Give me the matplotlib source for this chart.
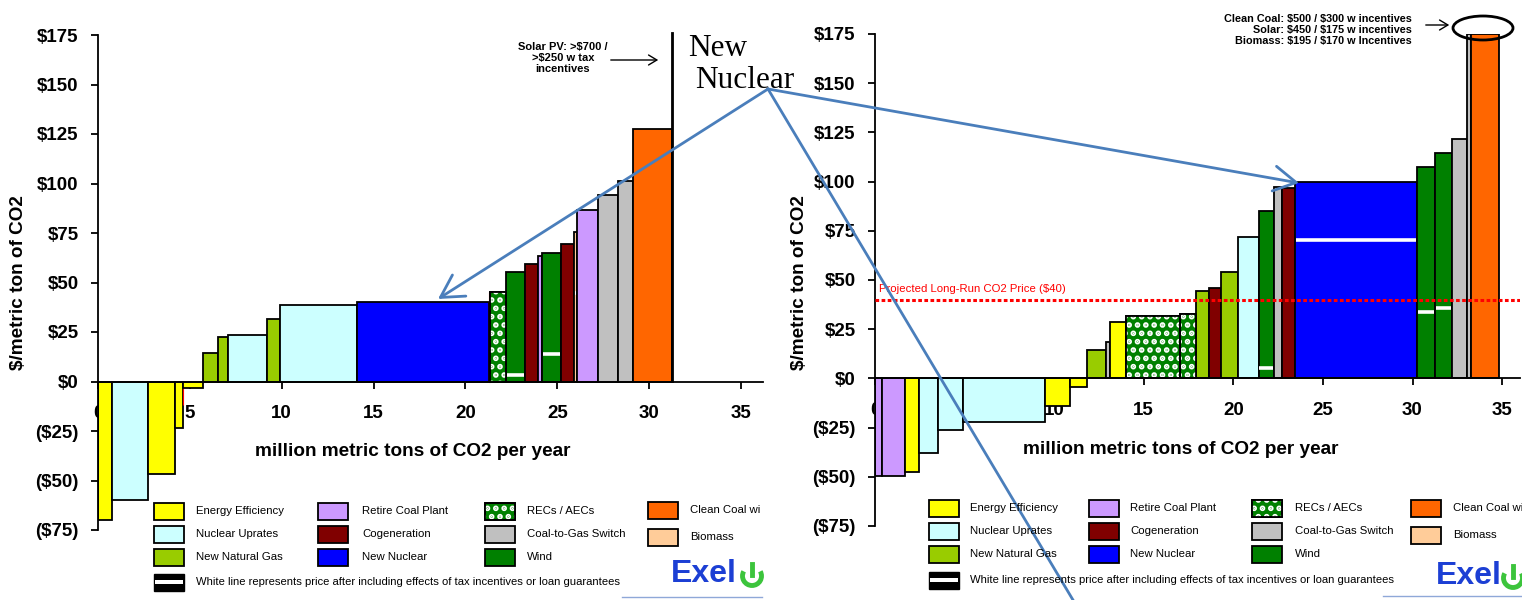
import matplotlib
matplotlib.use('Agg')
import matplotlib.pyplot as plt
from matplotlib.patches import Rectangle, Ellipse, FancyArrowPatch, Arc
from matplotlib.lines import Line2D
from matplotlib.ticker import FuncFormatter
import numpy as np

plt.rcParams['font.family'] = ['Liberation Sans', 'DejaVu Sans']
plt.rcParams['hatch.linewidth'] = 2.8
plt.rcParams['text.parse_math'] = False

W, H = 1522, 600

# ---------------- data ----------------
category_colors = {
    'EE': '#FFFF00', 'NU': '#CCFFFF', 'NNG': '#99CC00', 'RCP': '#CC99FF',
    'COGEN': '#800000', 'NN': '#0000FF', 'REC': '#008000', 'C2G': '#C0C0C0',
    'WIND': '#008000', 'CC': '#FF6600', 'BIO': '#FFCC99', 'RED': '#FF0000',
    'SOLAR': 'none',
}

legend_keys = ['EE', 'NU', 'NNG', 'RCP', 'COGEN', 'NN', 'REC', 'C2G', 'WIND', 'CC', 'BIO']
legend_labels = ['Energy Efficiency', 'Nuclear Uprates', 'New Natural Gas',
                 'Retire Coal Plant', 'Cogeneration', 'New Nuclear',
                 'RECs / AECs', 'Coal-to-Gas Switch', 'Wind',
                 'Clean Coal wi', 'Biomass']
white_line_label = 'White line represents price after including effects of tax incentives or loan guarantees'

left_types = ['EE', 'NU', 'EE', 'EE', 'RED', 'EE', 'NNG', 'NNG', 'NU', 'NNG', 'NU', 'NN',
              'RED', 'REC', 'WIND', 'COGEN', 'RCP', 'WIND', 'COGEN', 'BIO', 'RCP',
              'C2G', 'C2G', 'CC', 'SOLAR']
left_widths = [0.74, 1.99, 1.47, 0.40, 0.05, 1.08, 0.82, 0.51, 2.16, 0.70, 4.16, 7.22,
               0.06, 0.84, 1.05, 0.72, 0.22, 1.00, 0.72, 0.18, 1.14, 1.05, 0.82, 2.16, 0.04]
left_costs = [-70, -60, -46.5, -23.4, -12, -3.2, 14.3, 22.4, 23.7, 31.8, 38.7, 40.4,
              45, 45, 55.2, 59.4, 63.6, 64.8, 69.5, 75.4, 86.7, 94.3, 101.5, 127.6, 176]
left_incentive = [np.nan] * 14 + [3.5, np.nan, np.nan, 14, np.nan, 44.6] + [np.nan] * 5

right_types = ['RCP', 'RCP', 'EE', 'NU', 'NU', 'NU', 'EE', 'EE', 'NNG', 'C2G', 'EE',
               'REC', 'REC', 'NNG', 'COGEN', 'NNG', 'NU', 'WIND', 'C2G', 'COGEN', 'NN',
               'WIND', 'WIND', 'C2G', 'C2G', 'CC']
right_widths = [0.37, 1.30, 0.80, 1.06, 1.36, 4.62, 1.39, 0.93, 1.04, 0.22, 0.93, 2.98,
                0.92, 0.74, 0.65, 0.93, 1.17, 0.87, 0.41, 0.75, 6.81, 1.00, 0.93, 0.84,
                0.22, 1.58]
right_costs = [-49.6, -49.6, -47.4, -38.1, -26.4, -22.1, -14.2, -4.4, 14.4, 18.3, 28.9,
               31.7, 32.9, 44.3, 45.7, 53.9, 71.8, 85.3, 97.2, 96.6, 99.6, 107.5, 114.7,
               121.5, 175, 175]
right_incentive = [np.nan] * 17 + [5.2, np.nan, np.nan, 70.5, 33.7, 36.0] + [np.nan] * 3

projected_price = 40
projected_label = 'Projected Long-Run CO2 Price ($40)'
x_ticks = [0, 5, 10, 15, 20, 25, 30, 35]
y_ticks = [-75, -50, -25, 0, 25, 50, 75, 100, 125, 150, 175]
x_label = 'million metric tons of CO2 per year'
y_label = '$/metric ton of CO2'
solar_note = 'Solar PV: >$700 /\n>$250 w tax\nincentives'
right_note = ('Clean Coal: $500 / $300 w incentives\nSolar: $450 / $175 w incentives\n'
              'Biomass: $195 / $170 w Incentives')

# ---------------- helpers ----------------
fig = plt.figure(figsize=(W / 100, H / 100), dpi=100)

REC_HATCH = '..'


def fx(px):
    return px / W


def fy(py):
    return 1 - py / H


def money(v, pos=None):
    return f'${v:.0f}' if v >= 0 else f'(${-v:.0f})'


def draw_panel(ax, types, widths, costs, incent, xmax):
    lefts = np.concatenate([[0], np.cumsum(widths)[:-1]])
    for t, x0, w, c in zip(types, lefts, widths, costs):
        face = category_colors[t]
        edge = 'red' if t == 'RED' else 'black'
        lw = 0.8 if t == 'RED' else 1.3
        ax.bar(x0, c, width=w, align='edge', color=face, edgecolor=edge,
               linewidth=lw, zorder=2, clip_on=(t != 'SOLAR'))
        if t == 'REC':
            ax.bar(x0, c, width=w, align='edge', color='none', edgecolor='white',
                   linewidth=0, hatch=REC_HATCH, zorder=2.1)
            ax.bar(x0, c, width=w, align='edge', color='none', edgecolor='black',
                   linewidth=1.3, zorder=2.2)
    for x0, w, v in zip(lefts, widths, incent):
        if not np.isnan(v):
            ax.hlines(v, x0 + 0.05, x0 + w - 0.05, colors='white', linewidth=2.6, zorder=3)
    ax.set_xlim(0, xmax)
    ax.set_ylim(-75, 175)
    for s in ('top', 'right'):
        ax.spines[s].set_visible(False)
    ax.spines['bottom'].set_position(('data', 0))
    ax.spines['bottom'].set_linewidth(1.3)
    ax.spines['left'].set_linewidth(1.3)
    ax.set_axisbelow(True)
    ax.set_xticks(x_ticks)
    ax.set_yticks(y_ticks)
    ax.yaxis.set_major_formatter(FuncFormatter(money))
    ax.tick_params(axis='x', direction='out', length=5, width=1.3, labelsize=13.5, pad=12)
    ax.tick_params(axis='y', direction='out', length=5, width=1.3, labelsize=13.5, pad=9)
    for lbl in ax.get_xticklabels() + ax.get_yticklabels():
        lbl.set_fontweight('bold')


def draw_legend(col_sw_x, col_tx_x, rows_y, col4_rows_y, wl_y):
    sw_w, sw_h = 30, 17
    for i, (k, lab) in enumerate(zip(legend_keys, legend_labels)):
        col, row = divmod(i, 3)
        yc = col4_rows_y[row] if col == 3 else rows_y[row]
        x0 = col_sw_x[col]
        r = Rectangle((fx(x0), fy(yc + sw_h / 2)), sw_w / W, sw_h / H,
                      transform=fig.transFigure, facecolor=category_colors[k],
                      edgecolor='black', linewidth=1.3)
        fig.add_artist(r)
        if k == 'REC':
            fig.add_artist(Rectangle((fx(x0), fy(yc + sw_h / 2)), sw_w / W, sw_h / H,
                                     transform=fig.transFigure, facecolor='none',
                                     edgecolor='white', linewidth=0, hatch=REC_HATCH))
            fig.add_artist(Rectangle((fx(x0), fy(yc + sw_h / 2)), sw_w / W, sw_h / H,
                                     transform=fig.transFigure, facecolor='none',
                                     edgecolor='black', linewidth=1.3))
        fig.text(fx(col_tx_x[col]), fy(yc), lab, fontsize=8.2, ha='left', va='center')
    x0 = col_sw_x[0]
    fig.add_artist(Rectangle((fx(x0), fy(wl_y + 8.5)), sw_w / W, 17 / H,
                             transform=fig.transFigure, facecolor='black',
                             edgecolor='black', linewidth=1))
    fig.add_artist(Rectangle((fx(x0 + 1), fy(wl_y + 2)), (sw_w - 2) / W, 4 / H,
                             transform=fig.transFigure, facecolor='white',
                             edgecolor='none'))
    fig.text(fx(col_tx_x[0]), fy(wl_y), white_line_label, fontsize=8.1,
             ha='left', va='center')


def draw_logo(x_text, y_center, icon_x):
    fig.text(fx(x_text), fy(y_center), 'Exel', fontsize=23, fontweight='bold',
             color='#1C3FD4', ha='left', va='center')
    d = 19
    fig.add_artist(Arc((fx(icon_x), fy(y_center + 2)), d / W, d / H, theta1=125,
                       theta2=415, transform=fig.transFigure, color='#3CC43C', lw=3.5))
    fig.add_artist(Line2D([fx(icon_x), fx(icon_x)], [fy(y_center - 10), fy(y_center + 1)],
                          transform=fig.transFigure, color='#3CC43C', lw=3.5))


# ---------------- left panel ----------------
axL = fig.add_axes([fx(98), fy(530), (763 - 98) / W, 495 / H])
draw_panel(axL, left_types, left_widths, left_costs, left_incentive, 36.2)

fig.text(fx(413), fy(451), x_label, fontsize=13.7, fontweight='bold', ha='center', va='center')
fig.text(fx(19), fy(283), y_label, fontsize=13.7, fontweight='bold', ha='center',
         va='center', rotation=90)

fig.text(fx(563), fy(58), solar_note, fontsize=8, fontweight='bold', ha='center',
         va='center', linespacing=1.1)
fig.add_artist(FancyArrowPatch((fx(608), fy(60)), (fx(661), fy(60)),
                               transform=fig.transFigure, arrowstyle='->,head_length=0.5,head_width=0.3',
                               mutation_scale=12, color='black', lw=1.0))

draw_legend([154, 318, 485, 648], [196, 362, 527, 690], [511, 534, 557], [510, 537], 582)
draw_logo(671, 574, 752)
fig.add_artist(Line2D([fx(622), fx(762)], [fy(597), fy(597)], transform=fig.transFigure,
                      color='#8FA8D8', lw=1))

# ---------------- right panel ----------------
axR = fig.add_axes([fx(875), fy(526), (1520 - 875) / W, 492 / H])
draw_panel(axR, right_types, right_widths, right_costs, right_incentive, 36.0)
axR.axhline(projected_price, xmin=0, xmax=1, color='red', linestyle=(0, (1.2, 0.8)),
            linewidth=2.2, zorder=3.5)
axR.text(0.2, projected_price + 3, projected_label, color='red', fontsize=8.2,
         ha='left', va='bottom', zorder=4)

fig.text(fx(1181), fy(450), x_label, fontsize=13.7, fontweight='bold', ha='center', va='center')
fig.text(fx(799), fy(283), y_label, fontsize=13.7, fontweight='bold', ha='center',
         va='center', rotation=90)

fig.text(fx(1412), fy(30), right_note, fontsize=7.8, fontweight='bold', ha='right',
         va='center', linespacing=1.15)
fig.add_artist(FancyArrowPatch((fx(1423), fy(25)), (fx(1452), fy(25)),
                               transform=fig.transFigure, arrowstyle='->,head_length=0.5,head_width=0.3',
                               mutation_scale=12, color='black', lw=1.0))
fig.add_artist(Ellipse((fx(1483), fy(28)), 60 / W, 24 / H, transform=fig.transFigure,
                       fill=False, edgecolor='black', lw=2))

draw_legend([929, 1089, 1252, 1411], [970, 1130, 1295, 1453], [508, 531.5, 554], [508, 535], 580)
draw_logo(1436, 576, 1513)
fig.add_artist(Line2D([fx(1383), fx(1522)], [fy(596), fy(596)], transform=fig.transFigure,
                      color='#8FA8D8', lw=1))

# ---------------- "New Nuclear" call-out ----------------
serif = ['Liberation Serif', 'DejaVu Serif']
fig.text(fx(688), fy(48), 'New', fontsize=22.5, family=serif, ha='left', va='center')
fig.text(fx(695), fy(80), 'Nuclear', fontsize=22.5, family=serif, ha='left', va='center')
blue = '#4A7EBB'
origin = (fx(768), fy(89))
fig.add_artist(FancyArrowPatch(origin, (fx(438), fy(299)), transform=fig.transFigure,
                               arrowstyle='->,head_length=0.8,head_width=0.45',
                               mutation_scale=20, color=blue, lw=2, shrinkA=0, shrinkB=0))
fig.add_artist(FancyArrowPatch(origin, (fx(1299), fy(183)), transform=fig.transFigure,
                               arrowstyle='->,head_length=0.8,head_width=0.45',
                               mutation_scale=20, color=blue, lw=2, shrinkA=0, shrinkB=0))
fig.add_artist(Line2D([origin[0], fx(1073)], [origin[1], fy(600)], transform=fig.transFigure,
                      color=blue, lw=2))

fig.savefig('out.png', dpi=100)
